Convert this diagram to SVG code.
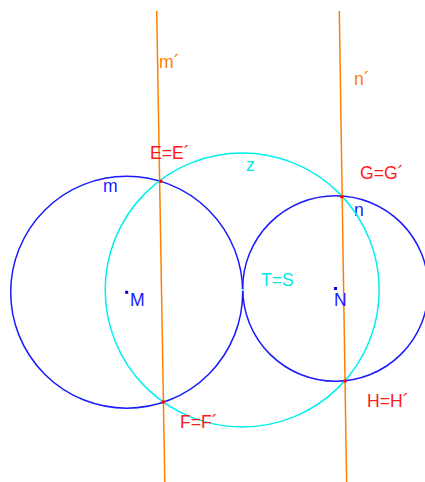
<svg xmlns="http://www.w3.org/2000/svg" width="425" height="482" viewBox="0 0 425 482">
<style>
.line{stroke:#ff8000;stroke-width:1.5;fill:none}
.circ{stroke:#1a1aff;stroke-width:1.5;fill:none}
.cyan{stroke:#00f0f0;stroke-width:1.5;fill:none}
text{font-family:"Liberation Sans",Arial,sans-serif;font-size:17.6px}
.red{fill:#ff1a1a}
.blue{fill:#1a1aff}
.or{fill:#ff8000}
.cy{fill:#00e8e8}
.pt{fill:#ff0000}
</style>
<rect width="425" height="482" fill="#ffffff"/>
<g id="circle-m"><circle class="circ" cx="126.7" cy="292.2" r="116"/><text class="blue" x="103" y="192">m</text></g>
<g id="circle-n"><circle class="circ" cx="335.5" cy="288.5" r="92.8"/><text class="blue" x="354" y="216">n</text></g>
<g id="circle-z"><circle class="cyan" cx="242.2" cy="290" r="137"/><text class="cy" x="246" y="171">z</text></g>
<g id="connectors">
<line id="line-m" class="line" x1="156.7" y1="11" x2="164.8" y2="482"/>
<line id="line-n" class="line" x1="339.3" y1="11" x2="346.6" y2="482"/>
</g>
<g id="label-m-prime"><text class="or" x="159" y="68">m´</text></g>
<g id="label-n-prime"><text class="or" x="354" y="85">n´</text></g>
<g id="point-E"><rect class="pt" x="159.3" y="179.8" width="3" height="3"/><text class="red" x="150" y="159">E=E´</text></g>
<g id="point-G"><rect class="pt" x="340.2" y="195.2" width="3" height="3"/><text class="red" x="360" y="179">G=G´</text></g>
<g id="point-F"><rect class="pt" x="161.8" y="400.5" width="3" height="3"/><text class="red" x="180" y="428">F=F´</text></g>
<g id="point-H"><rect class="pt" x="343.5" y="379.5" width="3" height="3"/><text class="red" x="367" y="407">H=H´</text></g>
<g id="point-M"><rect fill="#0000cc" x="125.2" y="290.8" width="3" height="3"/><text class="blue" x="130" y="306">M</text></g>
<g id="point-N"><rect fill="#0000cc" x="334" y="287" width="3" height="3"/><text class="blue" x="334" y="306">N</text></g>
<g id="point-T"><rect fill="#80ffff" x="241.5" y="289" width="2" height="2"/><text class="cy" x="261" y="286">T=S</text></g>
</svg>
